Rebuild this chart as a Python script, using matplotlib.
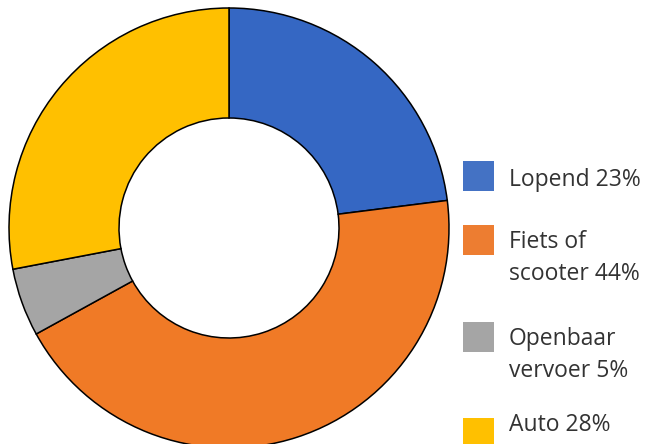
import matplotlib
matplotlib.use("Agg")
import matplotlib.pyplot as plt
from matplotlib.patches import Rectangle

labels = ["Lopend 23%", "Fiets of\nscooter 44%", "Openbaar\nvervoer 5%", "Auto 28%"]
values = [23, 44, 5, 28]
colors = ["#3567C3", "#F07A26", "#A5A5A5", "#FFC000"]
legend_colors = ["#4472C4", "#ED7D31", "#A5A5A5", "#FFC000"]

W, H = 645, 444
fig = plt.figure(figsize=(W / 100, H / 100), dpi=100)

# donut: centre (229, 228) px, radius 220 px
ax = fig.add_axes([9 / W, (H - 448) / H, 440 / W, 440 / H])
ax.pie(values, colors=colors, startangle=90, counterclock=False, radius=1,
       wedgeprops=dict(width=0.5, edgecolor="black", linewidth=1.1))
ax.set_xlim(-1, 1)
ax.set_ylim(-1, 1)
ax.set_aspect("equal")
ax.axis("off")

# legend drawn by hand (square top, last-line baseline in px)
tops = [161, 225, 322, 418]
baselines = [186, 280, 377, 431]
for top, bl, lab, c in zip(tops, baselines, labels, legend_colors):
    fig.patches.append(Rectangle((463 / W, 1 - (top + 30) / H), 31 / W, 30 / H,
                                 transform=fig.transFigure, facecolor=c, edgecolor="none"))
    fig.text(509 / W, 1 - bl / H, lab, ha="left", va="baseline",
             fontsize=16.5, family="Open Sans", color="#333333", linespacing=1.42)

fig.savefig("out.png", dpi=100)
